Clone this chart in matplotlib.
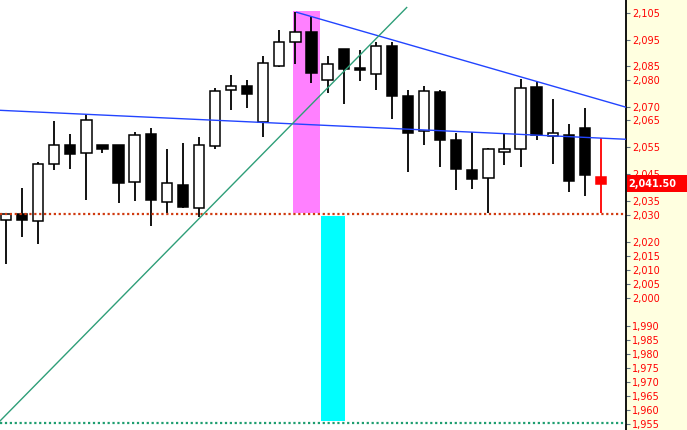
import matplotlib
matplotlib.use('Agg')
import matplotlib.pyplot as plt
from matplotlib.patches import Rectangle
from matplotlib.ticker import FixedLocator, FuncFormatter, NullLocator

# ---- data ----
opens = [2028.05, 2030.24, 2027.69, 2048.59, 2055.60, 2052.65, 2055.60, 2055.60,
         2041.96, 2059.68, 2034.63, 2040.86, 2032.43, 2055.24, 2076.04, 2077.54,
         2064.13, 2085.03, 2094.05, 2097.82, 2079.78, 2091.41, 2084.30, 2082.03,
         2092.54, 2073.80, 2060.79, 2075.30, 2057.45, 2046.38, 2043.43, 2053.02,
         2054.12, 2077.16, 2058.94, 2059.31, 2061.90, 2043.80]
highs = [2030.24, 2039.87, 2049.33, 2064.50, 2059.78, 2067.10, 2055.60, 2055.60,
         2060.42, 2061.90, 2054.12, 2056.34, 2058.57, 2076.79, 2081.65, 2079.78,
         2088.78, 2098.57, 2105.38, 2103.86, 2088.78, 2091.41, 2091.03, 2094.05,
         2094.05, 2076.04, 2077.54, 2076.04, 2060.05, 2060.42, 2054.49, 2059.68,
         2080.15, 2079.03, 2072.69, 2063.38, 2069.33, 2058.20]
lows = [2012.18, 2021.86, 2019.32, 2046.60, 2046.97, 2035.36, 2052.65, 2034.26,
        2035.00, 2025.86, 2030.61, 2032.43, 2029.37, 2054.12, 2068.59, 2069.33,
        2058.57, 2084.65, 2085.78, 2078.66, 2074.92, 2070.82, 2079.41, 2076.04,
        2065.24, 2045.64, 2055.60, 2047.70, 2039.03, 2039.40, 2030.61, 2048.22,
        2047.70, 2057.45, 2048.59, 2038.30, 2036.83, 2030.61]
closes = [2030.24, 2028.05, 2048.59, 2055.60, 2052.28, 2064.87, 2054.12, 2041.60,
          2059.31, 2035.36, 2041.60, 2032.80, 2055.60, 2075.67, 2077.54, 2074.55,
          2086.15, 2094.05, 2097.82, 2082.40, 2085.78, 2084.13, 2083.70, 2092.54,
          2074.03, 2060.05, 2075.67, 2057.68, 2046.75, 2043.06, 2054.12, 2054.12,
          2076.79, 2059.31, 2060.05, 2042.33, 2044.54, 2041.50]
last_price = 2041.50

y_ticks = [2105, 2095, 2085, 2080, 2070, 2065, 2055, 2045, 2035, 2030, 2020, 2015,
           2010, 2005, 2000, 1990, 1985, 1980, 1975, 1970, 1965, 1960, 1955]

support_level = 2030.5
bottom_level = 1955.6

# trend lines: (x0, x1), (y0, y1)
tl_lower_x, tl_lower_y = (-0.373, 38.56), (2068.59, 2057.84)
tl_upper_x, tl_upper_y = (18.08, 38.56), (2105.38, 2069.75)
tl_green_x, tl_green_y = (-0.373, 24.92), (1956.15, 2107.2)

# highlighted zones: x0, x1, y0, y1
pink_zone = (17.85, 19.53, 2030.6, 2105.87)
cyan_zone = (19.59, 21.08, 1956.25, 2029.63)

# ---- figure ----
W, H = 687, 430
fig = plt.figure(figsize=(W / 100, H / 100), dpi=100, facecolor='#FFFFE0')
ax = fig.add_axes([0, 0, 626 / W, 1])
ax.set_facecolor('white')
ax.set_yscale('log')
ax.set_xlim(-0.373, 38.56)
ax.set_ylim(1952.98, 2110.05)

for zone, col in [(pink_zone, '#FF80FF'), (cyan_zone, '#00FFFF')]:
    x0, x1, y0, y1 = zone
    ax.add_patch(Rectangle((x0, y0), x1 - x0, y1 - y0, facecolor=col,
                           edgecolor='none', zorder=1))

n = len(opens)
xs = list(range(n))
for i in xs:
    o, h, l, c = opens[i], highs[i], lows[i], closes[i]
    if i == n - 1:
        face, edge = '#FF0000', '#FF0000'
    elif c >= o:
        face, edge = 'white', 'black'
    else:
        face, edge = 'black', 'black'
    ax.vlines(i, l, h, colors=edge, linewidth=1.3, zorder=2)
    ax.bar(i, abs(c - o), bottom=min(o, c), width=0.64, color=face,
           edgecolor=edge, linewidth=1.1, zorder=3)

ax.axhline(support_level, color='#D03A10', linestyle=(0, (1, 1.2)),
           linewidth=1.6, zorder=4)
ax.axhline(bottom_level, color='#1E9E70', linestyle=(0, (1, 1.2)),
           linewidth=1.6, zorder=4)

ax.plot(tl_lower_x, tl_lower_y, color='#2244FF', linewidth=1.0, zorder=5)
ax.plot(tl_upper_x, tl_upper_y, color='#2244FF', linewidth=1.0, zorder=5)
ax.plot(tl_green_x, tl_green_y, color='#2E9E78', linewidth=1.0, zorder=5)

# axes styling
for s in ['left', 'top', 'bottom']:
    ax.spines[s].set_visible(False)
ax.spines['right'].set_color('black')
ax.spines['right'].set_linewidth(1.3)
ax.set_xticks([])
ax.yaxis.set_major_locator(FixedLocator(y_ticks))
ax.yaxis.set_minor_locator(NullLocator())
ax.yaxis.set_major_formatter(FuncFormatter(lambda v, p: f"{int(round(v)):,}"))
ax.yaxis.tick_right()
ax.tick_params(axis='y', which='major', direction='out', length=3, width=0.8,
               color='#607080', pad=1.5, labelsize=7, labelcolor='#FF0000')

# current price box
fig.canvas.draw()
py = ax.transData.transform((0, last_price))[1]
bh = 17
fig.add_artist(Rectangle((627 / W, (py - bh / 2) / H), (W - 627) / W, bh / H,
                         transform=fig.transFigure, facecolor='#FF0000',
                         edgecolor='none', zorder=10))
fig.text(628 / W, py / H, f"{last_price:,.2f}", color='white', fontsize=7,
         fontweight='bold', ha='left', va='center', zorder=11)

fig.savefig('out.png', dpi=100, facecolor=fig.get_facecolor())
